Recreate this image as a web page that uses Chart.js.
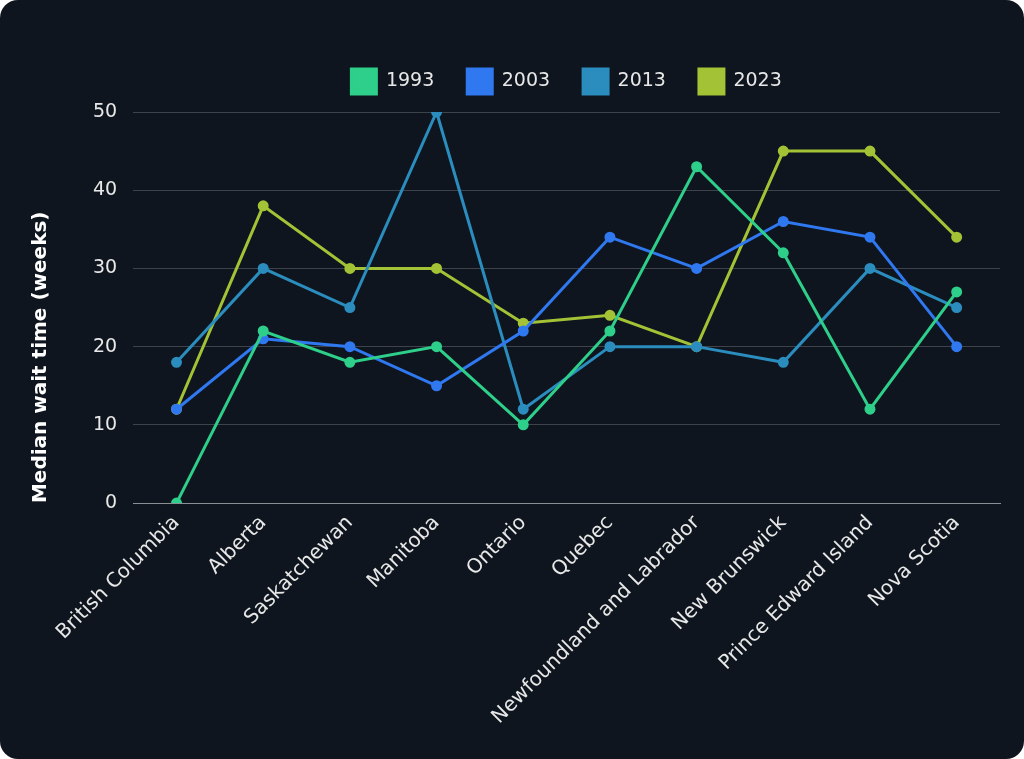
<!DOCTYPE html>
<html>
<head>
<meta charset="utf-8">
<script src="https://cdn.jsdelivr.net/npm/chart.js@4"></script>
<style>
  html, body { margin: 0; padding: 0; background: #ffffff; }
  .card {
    width: 1024px;
    height: 759px;
    background: #0e151e;
    border-radius: 18px;
    overflow: hidden;
  }
  canvas { display: block; }
</style>
</head>
<body>
<div class="card">
  <canvas id="waitChart" width="1024" height="759"></canvas>
</div>
<script>
  const provinces = [
    'British Columbia',
    'Alberta',
    'Saskatchewan',
    'Manitoba',
    'Ontario',
    'Quebec',
    'Newfoundland and Labrador',
    'New Brunswick',
    'Prince Edward Island',
    'Nova Scotia',
  ];

  const wait1993 = [0, 22, 18, 20, 10, 22, 43, 32, 12, 27];
  const wait2003 = [12, 21, 20, 15, 22, 34, 30, 36, 34, 20];
  const wait2013 = [18, 30, 25, 50, 12, 20, 20, 18, 30, 25];
  const wait2023 = [12, 38, 30, 30, 23, 24, 20, 45, 45, 34];

  const yTicks = [0, 10, 20, 30, 40, 50];

  function lineSet(label, values, color) {
    return {
      label: label,
      data: values,
      borderColor: color,
      backgroundColor: color,
      pointBackgroundColor: color,
      pointBorderColor: color,
      borderWidth: 3,
      pointRadius: 4,
      tension: 0,
      fill: false
    };
  }

  const data = {
    labels: provinces,
    datasets: [
      lineSet('1993', wait1993, '#2ecf8a'),
      lineSet('2003', wait2003, '#2f78f0'),
      lineSet('2013', wait2013, '#2b8cbe'),
      lineSet('2023', wait2023, '#a3c235'),
    ]
  };

  const font = 'DejaVu Sans';

  // a bit more room under the legend
  const legendGap = {
    id: 'legendGap',
    beforeInit(chart) {
      const fit = chart.legend.fit;
      chart.legend.fit = function () {
        fit.bind(chart.legend)();
        this.height += 8;
      };
    }
  };

  const config = {
    type: 'line',
    data,
    options: {
      responsive: false,
      animation: false,
      devicePixelRatio: 1,
      layout: {
        padding: { top: 36, right: 24, left: 29, bottom: 22 }
      },
      plugins: {
        legend: {
          position: 'top',
          fullSize: false,
          labels: {
            color: '#e8e8e8',
            font: { family: font, size: 19 },
            boxWidth: 25,
            boxHeight: 25,
            padding: 33
          }
        },
        tooltip: { enabled: false }
      },
      scales: {
        x: {
          offset: true,
          grid: { display: false, drawTicks: false },
          border: { display: true, color: '#8a8f96', width: 1 },
          ticks: {
            color: '#e8e8e8',
            font: { family: font, size: 20 },
            maxRotation: 45,
            minRotation: 45,
            autoSkip: false,
            padding: 8
          }
        },
        y: {
          min: 0,
          max: 50,
          afterBuildTicks: (scale) => {
            scale.ticks = yTicks.map(v => ({ value: v }));
          },
          grid: { color: 'rgba(255,255,255,0.2)', drawTicks: false },
          border: { display: false },
          ticks: {
            color: '#e8e8e8',
            font: { family: font, size: 19 },
            padding: 16
          },
          title: {
            display: true,
            text: 'Median wait time (weeks)',
            align: 'start',
            color: '#ffffff',
            font: { family: font, size: 20, weight: 'bold' },
            padding: { top: 0, bottom: 24 }
          }
        }
      }
    },
    plugins: [legendGap]
  };

  var waitChart = new Chart(
    document.getElementById('waitChart'),
    config
  );
</script>
</body>
</html>
